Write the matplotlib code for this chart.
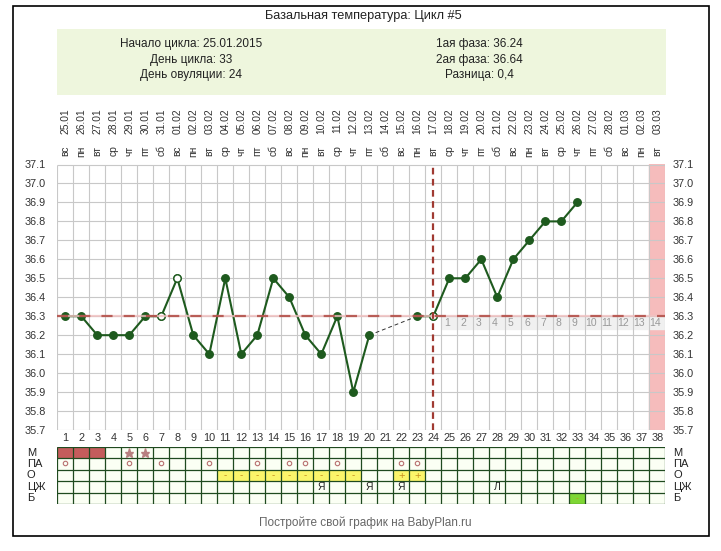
import numpy as np
import matplotlib
matplotlib.use("Agg")
import matplotlib.pyplot as plt
from matplotlib.patches import Rectangle

plt.rcParams['font.family'] = ['Liberation Sans', 'DejaVu Sans']

# данные графика
days = list(range(1, 39))
dates = ["25.01", "26.01", "27.01", "28.01", "29.01", "30.01", "31.01",
         "01.02", "02.02", "03.02", "04.02", "05.02", "06.02", "07.02", "08.02",
         "09.02", "10.02", "11.02", "12.02", "13.02", "14.02", "15.02", "16.02",
         "17.02", "18.02", "19.02", "20.02", "21.02", "22.02", "23.02", "24.02",
         "25.02", "26.02", "27.02", "28.02", "01.03", "02.03", "03.03"]
weekdays = ["вс", "пн", "вт", "ср", "чт", "пт", "сб"] * 5 + ["вс", "пн", "вт"]

temp_days1 = list(range(1, 21))
temps1 = [36.3, 36.3, 36.2, 36.2, 36.2, 36.3, 36.3, 36.5, 36.2, 36.1,
          36.5, 36.1, 36.2, 36.5, 36.4, 36.2, 36.1, 36.3, 35.9, 36.2]
temp_days2 = list(range(23, 34))
temps2 = [36.3, 36.3, 36.5, 36.5, 36.6, 36.4, 36.6, 36.7, 36.8, 36.8, 36.9]
open_days = [7, 8, 24]
open_temps = [36.3, 36.5, 36.3]

cover_line = 36.3
ovulation_day = 24
yticks = [35.7, 35.8, 35.9, 36.0, 36.1, 36.2, 36.3, 36.4, 36.5, 36.6, 36.7, 36.8, 36.9, 37.0, 37.1]

row_labels = ["М", "ПА", "О", "ЦЖ", "Б"]
m_days = [1, 2, 3]
star_days = [5, 6]
pa_days = [1, 5, 7, 10, 13, 15, 16, 18, 22, 23]
o_minus_days = [11, 12, 13, 14, 15, 16, 17, 18, 19]
o_plus_days = [22, 23]
cz_days = [17, 20, 22, 28]
cz_marks = ["Я", "Я", "Я", "Л"]
b_days = [33]

info_left = ["Начало цикла: 25.01.2015", "День цикла: 33", "День овуляции: 24"]
info_right = ["1ая фаза: 36.24", "2ая фаза: 36.64", "Разница: 0,4"]

W, H = 721, 551


def box(x0, y0, x1, y1):
    # пиксели -> координаты фигуры
    return [x0 / W, 1 - y1 / H, (x1 - x0) / W, (y1 - y0) / H]


fig = plt.figure(figsize=(W / 100, H / 100), dpi=100)
fig.patch.set_facecolor("white")

# рамка и зелёный блок
fig.patches.append(Rectangle((12.7 / W, 1 - 536 / H), (709 - 12.7) / W, (536 - 5.5) / H,
                             transform=fig.transFigure, fill=False, edgecolor="black", lw=1.2))
fig.patches.append(Rectangle((57 / W, 1 - 95 / H), (666 - 57) / W, (95 - 29) / H,
                             transform=fig.transFigure, facecolor="#eef6dd", edgecolor="none"))

fig.text(363 / W, 1 - 16 / H, "Базальная температура: Цикл #5", ha="center", va="center",
         fontsize=9.2, color="#222222")
for i, (tl, tr) in enumerate(zip(info_left, info_right)):
    y = 1 - (44.5 + 15.3 * i) / H
    fig.text(191 / W, y, tl, ha="center", va="center", fontsize=8.5, color="#222222")
    fig.text(479 / W, y, tr, ha="center", va="center", fontsize=8.5, color="#222222")

# основной график
ax = fig.add_axes(box(57.3, 164.5, 665.3, 430))
ax.set_xlim(0.5, 38.5)
ax.set_ylim(35.7, 37.1)
for s in ax.spines.values():
    s.set_visible(False)

ax.axvspan(ovulation_day + 13.5, ovulation_day + 14.5, color="#f6bcbc", zorder=0)
ax.axhspan(36.235, cover_line, xmin=ovulation_day / 38, xmax=1,
           color="#f0f0f0", zorder=0)
ax.vlines(np.arange(0.5, 39, 1), 35.7, 37.1, color="#c8c8c8", lw=0.8, zorder=1)
ax.hlines(yticks, 0.5, 38.5, color="#c8c8c8", lw=0.8, zorder=1)

ax.plot(temp_days1, temps1, color="#1e5a1e", lw=1.5, marker="o", ms=5.4,
        mfc="#1e5a1e", mec="#1e5a1e", zorder=3)
ax.plot(temp_days2, temps2, color="#1e5a1e", lw=1.5, marker="o", ms=5.4,
        mfc="#1e5a1e", mec="#1e5a1e", zorder=3)
ax.plot([temp_days1[-1], temp_days2[0]], [temps1[-1], temps2[0]], color="#333333",
        lw=0.7, ls=(0, (4, 3)), zorder=2)
ax.plot(open_days, open_temps, ls="none", marker="o", ms=5.2, mfc="white",
        mec="#1e5a1e", mew=0.9, zorder=4)

# линия перекрытия и овуляция
ax.hlines(cover_line, 0.5, 38.5, color="#f0c0c0", lw=1.6, zorder=5, alpha=0.8)
ax.hlines(cover_line, 0.5, 38.5, color="#a83a32", lw=1.6, ls=(0, (5, 5)), zorder=5, alpha=0.75)
ax.vlines(ovulation_day, 35.7, 37.1, color="#a03a32", lw=1.6, ls=(0, (3, 2)), zorder=5)

for i in range(1, 15):
    ax.text(ovulation_day + i - 0.15, 36.265, str(i), ha="center", va="center",
            fontsize=7.5, color="#999999", zorder=6)

ax.set_yticks(yticks)
ax.set_yticklabels([f"{t:.1f}" for t in yticks], fontsize=7.8, color="#333333")
ax.set_xticks(days)
ax.set_xticklabels([str(d) for d in days], fontsize=7.8, color="#333333")
ax.tick_params(axis="y", length=0, pad=8.5)
ax.tick_params(axis="x", length=0, pad=2.5)

ax2 = ax.twinx()
ax2.set_ylim(35.7, 37.1)
ax2.set_yticks(yticks)
ax2.set_yticklabels([f"{t:.1f}" for t in yticks], fontsize=7.8, color="#333333")
ax2.tick_params(axis="y", length=0, pad=5.5)
for s in ax2.spines.values():
    s.set_visible(False)

tr = ax.get_xaxis_transform()
for d, dt, wd in zip(days, dates, weekdays):
    ax.text(d, 1.164, dt, transform=tr, rotation=90, ha="center", va="center",
            fontsize=7.4, color="#333333")
    ax.text(d, 1.051, wd, transform=tr, rotation=90, ha="center", va="center",
            fontsize=7.4, color="#333333")

# таблица отметок
tax = fig.add_axes(box(57.3, 447, 665.3, 504))
tax.set_xlim(0.5, 38.5)
tax.set_ylim(5, 0)
tax.axis("off")
for r in range(5):
    tax.bar(days, 1, bottom=r, width=1, color="#fbfff4", zorder=0)
tax.bar(m_days, 1, bottom=0, width=1, color="#c45c5c", zorder=1)
tax.bar(o_minus_days + o_plus_days, 1, bottom=2, width=1, color="#fbf56a", zorder=1)
tax.bar(b_days, 1, bottom=4, width=1, color="#7ed634", zorder=1)
tax.vlines(np.arange(0.5, 39, 1), 0, 5, color="#1f4a1f", lw=0.9, zorder=2)
tax.hlines(range(6), 0.5, 38.5, color="#1f4a1f", lw=0.9, zorder=2)

tax.plot(star_days, [0.5] * len(star_days), ls="none", marker="*", ms=6.5,
         color="#b88080", zorder=3)
tax.plot(pa_days, [1.4] * len(pa_days), ls="none", marker="o", ms=3.2, mfc="none",
         mec="#b87070", mew=0.8, zorder=3)
for d in o_minus_days:
    tax.text(d, 2.45, "-", ha="center", va="center", fontsize=7, color="#c89020", zorder=3)
for d in o_plus_days:
    tax.text(d, 2.5, "+", ha="center", va="center", fontsize=8, color="#c89020", zorder=3)
for d, m in zip(cz_days, cz_marks):
    tax.text(d, 3.5, m, ha="center", va="center", fontsize=7.5, color="#222222", zorder=3)
for d in b_days:
    tax.text(d, 4.5, "-", ha="center", va="center", fontsize=6, color="#c89020", zorder=3)

for r, lab in enumerate(row_labels):
    tax.text(-1.4, r + 0.5, lab, ha="left", va="center", fontsize=8, color="#222222")
    tax.text(39.0, r + 0.5, lab, ha="left", va="center", fontsize=8, color="#222222")

fig.text(365 / W, 1 - 523 / H, "Постройте свой график на BabyPlan.ru", ha="center",
         va="center", fontsize=8.5, color="#666666")

fig.savefig("out.png", dpi=100)
